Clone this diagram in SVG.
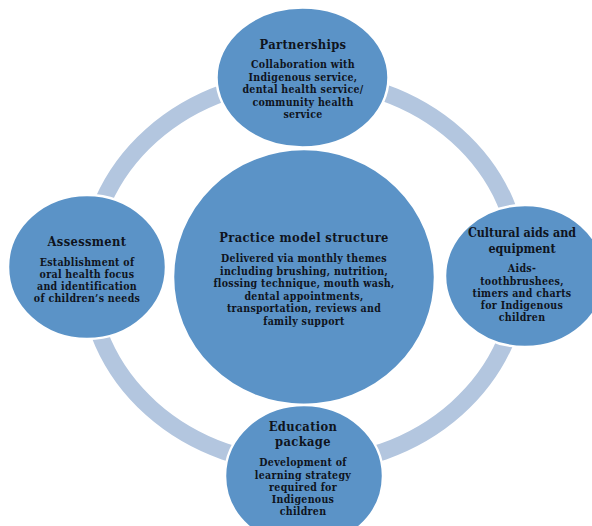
<svg xmlns="http://www.w3.org/2000/svg" width="592" height="526" viewBox="0 0 592 526">
  <style>
    .ring { fill: none; stroke: #b3c6df; stroke-width: 17; }
    .node { fill: #5b93c7; stroke: #ffffff; stroke-width: 2.5; }
    text { font-family: "DejaVu Serif Condensed", "DejaVu Serif", "Liberation Serif", serif; font-stretch: condensed; font-weight: bold; fill: #0f141d; text-anchor: middle; }
    .title { font-size: 12.8px; letter-spacing: 0.35px; }
    .tight { letter-spacing: 0; font-size: 12.4px; }
    .body { font-size: 10.5px; letter-spacing: 0.3px; }
  </style>
  <rect width="592" height="526" fill="#ffffff"/>

  <!-- cycle ring joining the outer nodes -->
  <g id="connectors">
    <ellipse class="ring" cx="304" cy="272" rx="216" ry="193"/>
  </g>

  <g id="center">
    <ellipse class="node" cx="304" cy="277" rx="131" ry="128"/>
    <text class="title" x="304" y="242">Practice model structure</text>
    <text class="body" x="304" y="262">Delivered via monthly themes</text>
    <text class="body" x="304" y="274.5">including  brushing, nutrition,</text>
    <text class="body" x="304" y="287">flossing technique, mouth wash,</text>
    <text class="body" x="304" y="299.5">dental appointments,</text>
    <text class="body" x="304" y="312">transportation, reviews and</text>
    <text class="body" x="304" y="324.5">family support</text>
  </g>

  <g id="partnerships">
    <ellipse class="node" cx="302.5" cy="77.5" rx="86" ry="70"/>
    <text class="title" x="303" y="49">Partnerships</text>
    <text class="body" x="303" y="68">Collaboration with</text>
    <text class="body" x="303" y="80.5">Indigenous service,</text>
    <text class="body" x="303" y="93">dental health service/</text>
    <text class="body" x="303" y="105.5">community health</text>
    <text class="body" x="303" y="118">service</text>
  </g>

  <g id="assessment">
    <ellipse class="node" cx="87" cy="267" rx="79" ry="72"/>
    <text class="title" x="87" y="246">Assessment</text>
    <text class="body" x="87" y="266">Establishment of</text>
    <text class="body" x="87" y="278">oral health focus</text>
    <text class="body" x="87" y="290">and identification</text>
    <text class="body" x="87" y="302">of children’s needs</text>
  </g>

  <g id="cultural-aids">
    <ellipse class="node" cx="525" cy="276" rx="80" ry="71"/>
    <text class="title tight" x="522" y="237">Cultural aids and</text>
    <text class="title tight" x="522" y="253">equipment</text>
    <text class="body" x="522" y="272">Aids-</text>
    <text class="body" x="522" y="284.5">toothbrushees,</text>
    <text class="body" x="522" y="297">timers and charts</text>
    <text class="body" x="522" y="309">for Indigenous</text>
    <text class="body" x="522" y="321">children</text>
  </g>

  <g id="education">
    <ellipse class="node" cx="304" cy="476" rx="79" ry="71"/>
    <text class="title" x="303" y="431">Education</text>
    <text class="title" x="303" y="446">package</text>
    <text class="body" x="303" y="466">Development of</text>
    <text class="body" x="303" y="478.5">learning strategy</text>
    <text class="body" x="303" y="491">required for</text>
    <text class="body" x="303" y="503">Indigenous</text>
    <text class="body" x="303" y="515">children</text>
  </g>
</svg>
